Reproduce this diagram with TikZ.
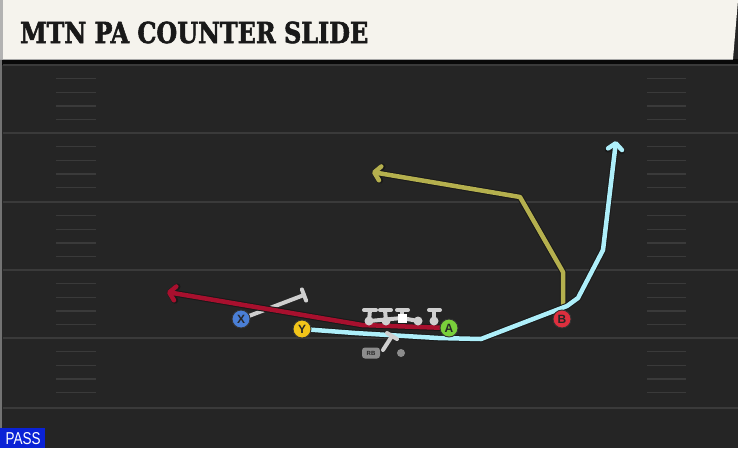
\documentclass[tikz,border=0pt]{standalone}
\usepackage{fontspec}
\setmainfont{DejaVu Sans}
\newfontfamily\titlefont[FakeBold=2]{DejaVu Serif Condensed Bold}
\newfontfamily\plfont{Liberation Sans}
\usetikzlibrary{arrows.meta,calc}
\definecolor{field}{HTML}{252525}
\definecolor{yard}{HTML}{3A3A3A}
\definecolor{cream}{HTML}{F5F3ED}
\definecolor{routeblue}{HTML}{AEEFFA}
\definecolor{routered}{HTML}{A8102E}
\definecolor{routeolive}{HTML}{B5B04E}
\definecolor{blockgray}{HTML}{CFCFCF}
\definecolor{pblue}{HTML}{4A7FD6}
\definecolor{pyellow}{HTML}{F1C419}
\definecolor{pgreen}{HTML}{79CF3B}
\definecolor{pred}{HTML}{DD2F3E}
\definecolor{passblue}{HTML}{0A22D6}
\tikzset{
  yardline/.style={draw=yard, line width=1.8pt},
  hash/.style={draw=yard, line width=1.3pt},
  player/.style={circle, draw=black!80, line width=0.9pt, minimum size=18pt, inner sep=0pt, font=\plfont\bfseries\fontsize{12}{12}\selectfont, text=black!85},
  routeout/.style={draw=black!90, line width=6.5pt, line join=round, line cap=round},
  routein/.style={line width=4.5pt, line join=round, line cap=round},
  tipout/.style={-{Straight Barb[length=6pt,width=14pt,round]}},
  blocker/.style={draw=blockgray, line width=4pt, line cap=round},
  dot/.style={circle, fill=blockgray, inner sep=0pt, minimum size=9pt},
}
\begin{document}
\begin{tikzpicture}[x=1pt,y=-1pt]
\useasboundingbox (0,0) rectangle (738,448);
% field
\fill[field] (0,0) rectangle (738,448);
\fill[black!75!field] (0,59) rectangle (738,65);
\draw[black!55, line width=1.2pt] (1,60) -- (1,448);
% yard lines
\foreach \yy in {65,133,202,270,338,408} {
  \draw[yardline] (3,\yy) -- (738,\yy);
}
% hash marks
\foreach \yy in {65,133,202,270,338} {
  \foreach \k in {1,2,3,4} {
    \draw[hash] (56,\yy+13.7*\k) -- (96,\yy+13.7*\k);
    \draw[hash] (647,\yy+13.7*\k) -- (686,\yy+13.7*\k);
  }
}
% title bar
\fill[cream] (0,0) -- (738,0) -- (733,59) -- (0,59) -- cycle;
\draw[black!35, line width=0.8pt] (0,59) -- (733,59);
\fill[black!30] (0,0) rectangle (3,59);
\node[anchor=west, inner sep=0pt, text=black!90] (title) at (20,32.5)
  {\resizebox{348pt}{21.5pt}{\titlefont MTN PA COUNTER SLIDE}};
% pass label
\fill[passblue] (0,428) rectangle (45,448);
\node[inner sep=0pt, text=white] (pass) at (23,439)
  {\resizebox{35pt}{12pt}{\plfont PASS}};

% player positions
\coordinate (Xp) at (241,319);
\coordinate (Yp) at (302,329);
\coordinate (Ap) at (449,328);
\coordinate (Bp) at (562,319);

% route waypoints
\coordinate (b1) at (355,333);
\coordinate (b2) at (438,338);
\coordinate (b3) at (481,339);
\coordinate (b4) at (567,306);
\coordinate (b5) at (578,298);
\coordinate (b6) at (603,250);
\coordinate (b7) at (616,141);
\coordinate (r1) at (362,325);
\coordinate (r2) at (167,292);
\coordinate (o1) at (563,311);
\coordinate (o2) at (563,272);
\coordinate (o3) at (520,197);
\coordinate (o4) at (372,172);
\coordinate (xb) at (304,295);

% X block
\draw[blocker] (Xp) -- (xb);
\draw[blocker] ($(xb)!6pt!90:(Xp)$) -- ($(xb)!6pt!-90:(Xp)$);

% olive route (B)
\draw[routeout, tipout] (o1) -- (o2) -- (o3) -- (o4);
\draw[routein, draw=routeolive, tipout] (o1) -- (o2) -- (o3) -- (o4);
% blue route (Y)
\draw[routeout, tipout] (Yp) -- (b1) -- (b2) -- (b3) -- (b4) -- (b5) -- (b6) -- (b7);
\draw[routein, draw=routeblue, tipout] (Yp) -- (b1) -- (b2) -- (b3) -- (b4) -- (b5) -- (b6) -- (b7);
% red route (A)
\draw[routeout, tipout] (Ap) -- (r1) -- (r2);
\draw[routein, draw=routered, tipout] (Ap) -- (r1) -- (r2);

% offensive line
\node[dot] (lt) at (369,321) {};
\node[dot] (lg) at (386,321) {};
\node[rectangle, fill=white, inner sep=0pt, minimum size=9pt] (c) at (402,318) {};
\node[dot] (rg) at (418,321) {};
\node[dot] (rt) at (434,321) {};
\draw[blocker] (lt.center) -- (c.center) -- (rg.center);
\draw[blocker] (lt.center) -- (370,310);
\draw[blocker] (364,310) -- (376,310);
\draw[blocker] (lg.center) -- (385,310);
\draw[blocker] (380,310) -- (391,310);
\draw[blocker] (c.north) -- (402,310);
\draw[blocker] (397,310) -- (408,310);
\draw[blocker] (rt.center) -- (434,310);
\draw[blocker] (429,310) -- (440,310);
\node[rectangle, fill=white, inner sep=0pt, minimum size=9pt] at (402,318) {};

% backfield
\node[dot, fill=black!45, minimum size=8pt] (qb) at (401,353) {};
\coordinate (rbb) at (392,336);
\draw[blocker] (383,350) -- (rbb);
\draw[blocker] (387,333) -- (397,339);
\node[rectangle, rounded corners=3pt, fill=black!45, minimum width=18pt, minimum height=11pt, inner sep=0pt, font=\plfont\bfseries\fontsize{6}{6}\selectfont, text=black!85] (rb) at (371,353) {RB};

% players
\node[player, fill=pblue] (X) at (Xp) {X};
\node[player, fill=pyellow] (Y) at (Yp) {Y};
\node[player, fill=pgreen] (A) at (Ap) {A};
\node[player, fill=pred] (B) at (Bp) {B};
\end{tikzpicture}
\end{document}
